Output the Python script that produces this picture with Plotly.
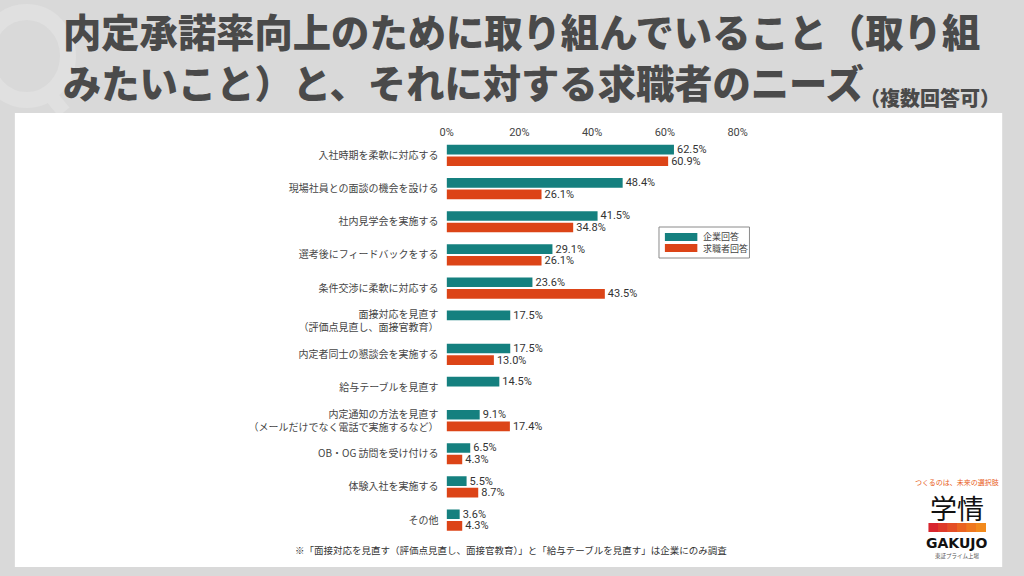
import plotly.graph_objects as go

# ---- data ----
categories = [
    "入社時期を柔軟に対応する",
    "現場社員との面談の機会を設ける",
    "社内見学会を実施する",
    "選考後にフィードバックをする",
    "条件交渉に柔軟に対応する",
    "面接対応を見直す<br>（評価点見直し、面接官教育）",
    "内定者同士の懇談会を実施する",
    "給与テーブルを見直す",
    "内定通知の方法を見直す<br>（メールだけでなく電話で実施するなど）",
    "OB・OG 訪問を受け付ける",
    "体験入社を実施する",
    "その他",
]
company = [62.5, 48.4, 41.5, 29.1, 23.6, 17.5, 17.5, 14.5, 9.1, 6.5, 5.5, 3.6]
seekers = [60.9, 26.1, 34.8, 26.1, 43.5, None, 13.0, None, 17.4, 4.3, 8.7, 4.3]
series_names = ["企業回答", "求職者回答"]
tick_vals = [0, 20, 40, 60, 80]
tick_text = ["0%", "20%", "40%", "60%", "80%"]

TEAL = "#15807f"
ORANGE = "#dc4417"
BG = "#d9d9d9"
FONT = "Noto Sans CJK JP"
NUMFONT = "Roboto"

W, H = 1024, 576
def px(x):
    return x / W
def py(y):
    return 1 - y / H

def fmt(v):
    return None if v is None else f"{v:.1f}%"

fig = go.Figure()
for name, vals, col in [(series_names[0], company, TEAL), (series_names[1], seekers, ORANGE)]:
    fig.add_trace(go.Bar(
        y=categories, x=vals, orientation="h", name=name,
        marker=dict(color=col, line=dict(width=0)),
        text=[fmt(v) for v in vals], textposition="outside",
        constraintext="none",
        outsidetextfont=dict(size=11, color="#333333", family=NUMFONT),
        cliponaxis=False, showlegend=False, hoverinfo="skip",
    ))

fig.update_layout(
    width=W, height=H,
    paper_bgcolor=BG, plot_bgcolor="white",
    margin=dict(l=0, r=0, t=0, b=0),
    barmode="group", bargap=0.3, bargroupgap=0.17,
    showlegend=False,
    font=dict(family=FONT, color="#444444"),
    xaxis=dict(
        domain=[px(447), px(743)], range=[0, 80.01], side="top",
        tickvals=tick_vals, ticktext=tick_text, showgrid=False,
        zeroline=False, showline=False, ticks="",
        tickfont=dict(size=11, color="#444444", family=NUMFONT),
        fixedrange=True,
    ),
    yaxis=dict(
        domain=[py(536.6), py(138.9)], type="category",
        categoryorder="array", categoryarray=categories,
        autorange="reversed", showgrid=False, zeroline=False,
        showline=False, ticks="", ticklabelstandoff=7,
        tickfont=dict(size=10, color="#444444", family=FONT),
    ),
)

shapes = [
    # faint "Q" watermark ring
    dict(type="circle", xref="paper", yref="paper", x0=px(-22), x1=px(62),
         y0=py(100), y1=py(12), line=dict(color="#e0e0e0", width=16), layer="below"),
    dict(type="line", xref="paper", yref="paper", x0=px(38), x1=px(58),
         y0=py(88), y1=py(112), line=dict(color="#e0e0e0", width=14), layer="below"),
    dict(type="rect", xref="paper", yref="paper", x0=px(8), x1=px(1012),
         y0=py(567), y1=py(113), fillcolor="white", line=dict(width=0), layer="below"),
    # legend box
    dict(type="rect", xref="paper", yref="paper", x0=px(663), x1=px(755),
         y0=py(258), y1=py(227), fillcolor="white", line=dict(color="#8a8a8a", width=1)),
]
leg_y = [237, 248]
for (name, col), yy in zip([(series_names[0], TEAL), (series_names[1], ORANGE)], leg_y):
    shapes.append(dict(type="rect", xref="paper", yref="paper", x0=px(669), x1=px(702),
                       y0=py(yy + 4), y1=py(yy - 4), fillcolor=col, line=dict(width=0)))

# logo colour band
band_cols = ["#d8262e", "#de3a2a", "#e44e26", "#ea6422", "#ef781f", "#f28a1d"]
bx0, bx1 = 937, 995
step = (bx1 - bx0) / len(band_cols)
for i, c in enumerate(band_cols):
    shapes.append(dict(type="rect", xref="paper", yref="paper",
                       x0=px(bx0 + i * step), x1=px(bx0 + (i + 1) * step + 0.5),
                       y0=py(532), y1=py(523), fillcolor=c, line=dict(width=0)))
fig.update_layout(shapes=shapes)

ann = []
for name, yy in zip(series_names, leg_y):
    ann.append(dict(text=name, x=px(706), y=py(yy), xref="paper", yref="paper",
                    showarrow=False, xanchor="left", yanchor="middle",
                    font=dict(size=9, color="#444444", family=FONT)))
ann.append(dict(text="内定承諾率向上のために取り組んでいること（取り組",
                x=px(55), y=py(31), xref="paper", yref="paper", showarrow=False,
                xanchor="left", yanchor="middle",
                font=dict(size=38.3, color="#4a4a4a", family=FONT, weight=900)))
ann.append(dict(text="みたいこと）と、それに対する求職者のニーズ",
                x=px(55), y=py(81), xref="paper", yref="paper", showarrow=False,
                xanchor="left", yanchor="middle",
                font=dict(size=38.3, color="#4a4a4a", family=FONT, weight=900)))
ann.append(dict(text="（複数回答可）",
                x=px(1012), y=py(98), xref="paper", yref="paper", showarrow=False,
                xanchor="right", yanchor="middle",
                font=dict(size=20, color="#4a4a4a", family=FONT, weight=900)))
ann.append(dict(text="※「面接対応を見直す（評価点見直し、面接官教育）」と「給与テーブルを見直す」は企業にのみ調査",
                x=px(512), y=py(550), xref="paper", yref="paper", showarrow=False,
                xanchor="center", yanchor="middle",
                font=dict(size=9.5, color="#333333", family=FONT)))
ann.append(dict(text="つくるのは、未来の選択肢", x=px(966), y=py(482), xref="paper", yref="paper",
                showarrow=False, xanchor="center", yanchor="middle",
                font=dict(size=7, color="#e8601c", family=FONT)))
ann.append(dict(text="学情", x=px(966), y=py(507), xref="paper", yref="paper",
                showarrow=False, xanchor="center", yanchor="middle",
                font=dict(size=27, color="#111111", family=FONT)))
ann.append(dict(text="GAKUJO", x=px(966), y=py(543), xref="paper", yref="paper",
                showarrow=False, xanchor="center", yanchor="middle",
                font=dict(size=14, color="#111111", family="DejaVu Sans", weight=600)))
ann.append(dict(text="東証プライム上場", x=px(966), y=py(556), xref="paper", yref="paper",
                showarrow=False, xanchor="center", yanchor="middle",
                font=dict(size=5.5, color="#555555", family=FONT)))
fig.update_layout(annotations=ann)

fig.write_html("out.html")
